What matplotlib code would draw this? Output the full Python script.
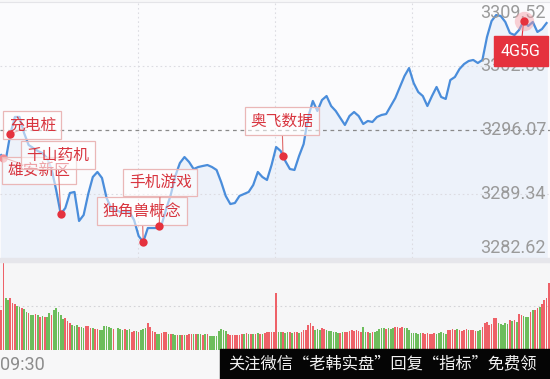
import numpy as np
import matplotlib
matplotlib.use('Agg')
import matplotlib.pyplot as plt
from matplotlib.patches import Rectangle

# 分时价格：09:30 起每 2 分钟一个点
price_minute = np.arange(0, 240, 2)
price = [
    3293.44, 3292.92, 3295.65, 3297.44, 3297.44, 3295.75, 3294.49, 3294.18, 3293.86, 3293.65,
    3293.13, 3291.97, 3289.77, 3287.24, 3287.87, 3289.45, 3289.56, 3286.51, 3287.14, 3289.35,
    3291.13, 3291.66, 3291.03, 3288.93, 3287.87, 3287.66, 3287.45, 3287.56, 3287.45, 3286.61,
    3284.93, 3284.30, 3285.77, 3285.77, 3285.77, 3286.09, 3287.77, 3289.24, 3291.24, 3292.60,
    3293.23, 3292.71, 3291.97, 3292.18, 3292.29, 3292.39, 3292.18, 3291.87, 3290.61, 3289.14,
    3288.29, 3288.40, 3289.14, 3289.35, 3289.56, 3290.29, 3291.66, 3291.13, 3290.82, 3292.39,
    3294.28, 3293.86, 3292.81, 3291.97, 3291.87, 3293.34, 3294.60, 3297.44, 3299.12, 3298.07,
    3299.22, 3299.64, 3298.59, 3298.07, 3297.33, 3296.60, 3297.54, 3297.96, 3297.54, 3296.70,
    3297.02, 3296.91, 3297.44, 3297.65, 3297.75, 3298.59, 3299.43, 3300.59, 3301.74, 3302.58,
    3301.01, 3300.06, 3299.64, 3298.59, 3299.64, 3300.59, 3299.54, 3299.33, 3301.32, 3301.64,
    3302.48, 3303.00, 3303.32, 3303.43, 3303.11, 3303.43, 3305.84, 3307.52, 3308.15, 3308.05,
    3307.42, 3306.26, 3306.05, 3306.58, 3307.52, 3307.00, 3307.42, 3306.37, 3306.68, 3307.31,
]

prev_close = 3296.07
y_ticks = [3309.52, 3302.80, 3296.07, 3289.34, 3282.62]

# 成交量（每分钟）
volume = [
    40, 90, 52, 50, 52, 47, 46, 44, 43, 42,
    41, 38, 37, 35, 35, 36, 35, 33, 34, 33,
    33, 37, 35, 40, 42, 38, 35, 31, 32, 29,
    27, 25, 24, 25, 23, 23, 22, 24, 24, 22,
    22, 21, 21, 20, 20, 24, 24, 23, 22, 21,
    0, 22, 21, 20, 21, 20, 21, 18, 19, 19,
    18, 20, 21, 22, 27, 23, 19, 18, 16, 16,
    17, 18, 18, 16, 16, 16, 15, 15, 15, 15,
    15, 15, 16, 16, 16, 16, 16, 16, 15, 16,
    16, 14, 14, 14, 14, 19, 21, 20, 19, 16,
    15, 15, 15, 15, 15, 16, 16, 17, 16, 16,
    16, 16, 17, 16, 16, 17, 18, 18, 18, 18,
    57, 18, 18, 18, 17, 18, 18, 17, 18, 18,
    17, 18, 20, 20, 25, 27, 24, 20, 21, 20,
    22, 21, 20, 19, 19, 18, 18, 17, 17, 18,
    18, 18, 19, 20, 19, 20, 19, 18, 23, 18,
    18, 17, 18, 18, 19, 21, 22, 22, 21, 22,
    21, 22, 23, 23, 22, 23, 22, 22, 20, 17,
    17, 17, 16, 17, 17, 16, 17, 16, 16, 17,
    16, 17, 18, 17, 16, 20, 20, 21, 20, 21,
    20, 19, 20, 21, 20, 20, 20, 19, 19, 20,
    23, 27, 28, 25, 26, 32, 32, 27, 26, 25,
    27, 26, 30, 29, 30, 28, 36, 35, 34, 33,
    33, 38, 40, 40, 42, 43, 46, 50, 52, 67,
]
# r = 上涨, g = 下跌
vol_dir = (
    "rrggrrrggr" "ggrggrgrgr" "ggrgggggrr" "rgggrggrrr" "grrggggggr" "ggggrggrrg"
    "rgggrrrrgg" "rrrgrggrgr" "grrrgrggrg" "rggggggggr" "rrrrrrgrgr" "grgrgrrrrr"
    "rggrggrgrr" "grrrrrrggg" "rrggggggrg" "rrrrrrrrgg" "rgrgggggrg" "ggrrrrgggg"
    "ggggrrrrrr" "gggggrrrrg" "rrrrgrrrgg" "rrrrrrrggg" "ggrgrgrrgg" "grgrrgrrrr"
)

tags = ['雄安新区', '充电桩', '千山药机', '独角兽概念', '手机游戏', '奥飞数据', '4G5G']
tag_minute = [1, 4, 26, 62, 69, 123, 228]
# label offsets from the point, in pixels
tag_offset = [(36, -13), (22, 9), (-3, 59), (-1, 31), (1, 44), (-1, 35), (-3, -30)]

cjk = ['Noto Sans CJK SC', 'DejaVu Sans']
RED = '#e5323e'
BLUE = '#4a8ddb'

H = 379.0
fig = plt.figure(figsize=(5.5, 3.79), dpi=100, facecolor='#f7f7f8')

# ── 分时图 ───────────────────────────────────────────────────────────────
ax = fig.add_axes([0, 1 - 258 / H, 1, 256 / H])
ax.set_facecolor('#fbfbfd')
ax.set_xlim(-0.5, 239.5)
ax.set_ylim(y_ticks[-1], y_ticks[0])
ax.set_xticks([])
ax.set_yticks([])
for s in ax.spines.values():
    s.set_visible(False)
ax.spines['top'].set_visible(True)
ax.spines['top'].set_color('#e4e4e8')

ax.fill_between(price_minute, price, y_ticks[-1], color='#edf2fa', zorder=1)
for v in y_ticks[1:-1]:
    if v == prev_close:
        ax.axhline(v, color='#8a8a8a', lw=0.9, ls=(0, (3, 3)), zorder=1.5)
    else:
        ax.axhline(v, color='#dcdce2', lw=0.8, ls=(0, (1.5, 2.5)), zorder=1.5)
for xv in (59.5, 119.5, 179.5):
    ax.axvline(xv, color='#dcdce2', lw=0.8, ls=(0, (1.5, 2.5)), zorder=1.5)

ax.plot(price_minute, price, color=BLUE, lw=1.6, zorder=2, solid_joinstyle='round')

for i, v in enumerate(y_ticks):
    dy = -11 if i == 0 else (10 if i == len(y_ticks) - 1 else 0)
    ax.annotate(f'{v:.2f}', xy=(1, v), xycoords=('axes fraction', 'data'),
                xytext=(-4, dy), textcoords='offset pixels', ha='right', va='center',
                fontsize=13, family='Roboto', color='#9a9a9a', zorder=3)

for name, m, (dx, dy) in zip(tags, tag_minute, tag_offset):
    py = np.interp(m, price_minute, price)
    if name == '4G5G':
        ax.plot(m, py, 'o', ms=14, color='#f59aa3', alpha=0.45, mec='none', zorder=6)
        ax.annotate(name, xy=(m, py), xytext=(dx, dy), textcoords='offset pixels',
                    ha='center', va='center', fontsize=11.5, family='Roboto', color='white',
                    bbox=dict(boxstyle='square,pad=0.45', fc=RED, ec=RED),
                    arrowprops=dict(arrowstyle='-', color=RED, lw=0.8, shrinkA=0, shrinkB=0),
                    zorder=5)
        ax.plot(m, py, 'o', ms=6, color=RED, mec='none', zorder=7)
        continue
    ax.annotate(name, xy=(m, py), xytext=(dx, dy), textcoords='offset pixels',
                ha='center', va='center', fontsize=11.3, family=cjk, color='#d8353f',
                bbox=dict(boxstyle='square,pad=0.35', fc=(1, 1, 1, 0.55), ec='#eab7b7', lw=0.9),
                arrowprops=dict(arrowstyle='-', color='#e06a6a', lw=0.8, shrinkA=0, shrinkB=0),
                zorder=4)
    if name == '雄安新区':
        ax.plot(m, py, 'o', ms=6, color='#f08a92', mec='none', zorder=3.5)
    else:
        ax.plot(m, py, 'o', ms=6, color=RED, mec='none', zorder=6)

# panel separator
fig.patches.append(Rectangle((0, 1 - 262 / H), 1, 4 / H, transform=fig.transFigure,
                             color='#e6e6eb', zorder=0))

# ── 成交量 ───────────────────────────────────────────────────────────────
axv = fig.add_axes([0, 1 - 350 / H, 1, 88 / H])
axv.set_facecolor('#f6f6f7')
axv.set_xlim(-0.5, 239.5)
axv.set_ylim(0, 88)
axv.set_xticks([])
axv.set_yticks([])
for s in axv.spines.values():
    s.set_visible(False)
colors = ['#ee6168' if c == 'r' else '#6dbd5c' for c in vol_dir]
axv.bar(np.arange(len(volume)), volume, width=0.74, color=colors, zorder=2)
axv.axhline(44, color='#d4d4d8', lw=0.8, ls=(0, (1.5, 2.5)), zorder=1)

fig.text(0.0, 1 - 365 / H, '09:30', ha='left', va='center', fontsize=13,
         family='Roboto', color='#8c8c8c')

# watermark banner
fig.patches.append(Rectangle((220 / 550, 0), 330 / 550, 30 / H, transform=fig.transFigure,
                             color='#050505', zorder=5))
fig.text(228 / 550, 15 / H, '关注微信“老韩实盘”回复“指标”免费领', ha='left', va='center',
         fontsize=11.7, family=cjk, color='#f2f2f2', zorder=6)

fig.savefig('out.png', dpi=100, facecolor=fig.get_facecolor())
